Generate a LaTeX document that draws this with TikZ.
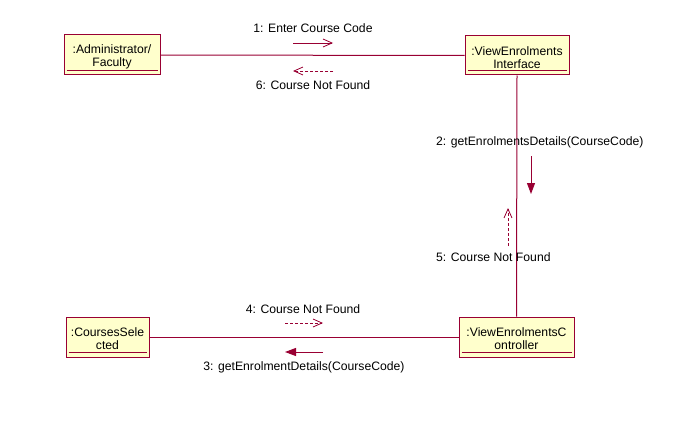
\documentclass[tikz,border=0pt]{standalone}
\usepackage{fontspec}
\setmainfont{Liberation Sans}
\usetikzlibrary{arrows.meta}
\definecolor{umlred}{HTML}{990033}
\definecolor{umlfill}{HTML}{FFFFCC}
\begin{document}
\begin{tikzpicture}[x=1pt,y=-1pt,
  obj/.style={draw=umlred,fill=umlfill,line width=1pt,inner sep=0pt},
  objtext/.style={inner sep=0pt,align=center,font=\fontsize{12.2}{13}\selectfont},
  link/.style={draw=umlred,line width=1pt},
  msg/.style={font=\fontsize{12.2}{14}\selectfont,inner sep=0pt},
  callarrow/.style={draw=umlred,line width=1pt,-{Triangle[length=11pt,width=8pt]}},
  sendarrow/.style={draw=umlred,line width=0.8pt,-{Straight Barb[length=9pt,width=8pt]}},
  retarrow/.style={draw=umlred,line width=0.8pt,dash pattern=on 3pt off 2pt,-{Straight Barb[length=9pt,width=8pt,line width=0.8pt]}}
]
\useasboundingbox (0,0) rectangle (675,428);
\fill[white] (0,0) rectangle (675,428);

% objects
\node[obj,minimum width=96pt,minimum height=40pt] (adm) at (112,55) {};
\node[obj,minimum width=104pt,minimum height=39pt] (vei) at (517,55.5) {};
\node[obj,minimum width=83pt,minimum height=40pt] (cs) at (107.5,337) {};
\node[obj,minimum width=115pt,minimum height=40pt] (vec) at (516.5,337) {};

\node[objtext] (admt) at ([yshift=-2pt]adm.center) {:Administrator/\\Faculty};
\node[objtext] (veit) at ([yshift=-2pt]vei.center) {:ViewEnrolments\\Interface};
\node[objtext] (cst) at ([yshift=-2pt]cs.center) {:CoursesSele\\cted};
\node[objtext] (vect) at ([yshift=-2pt]vec.center) {:ViewEnrolmentsC\\ontroller};

% underlines
\foreach \n in {adm,vei,cs,vec}
  \draw[umlred,line width=1pt] ([xshift=3pt,yshift=5pt]\n.south west) -- ([xshift=-3pt,yshift=5pt]\n.south east);

% links
\draw[link] (adm.east) -- (vei.west);
\draw[link] (vei.south) -- (vec.north);
\draw[link] (cs.east) -- (vec.west);

% message 1
\node[msg] (m1) at (313,28) {1: Enter Course Code};
\coordinate (m1a) at (293,43); \coordinate (m1b) at (333,43);
\draw[sendarrow] (m1a) -- (m1b);
% message 6
\node[msg] (m6) at (313,85) {6: Course Not Found};
\coordinate (m6a) at (333,71); \coordinate (m6b) at (293,71);
\draw[retarrow] (m6a) -- (m6b);
% message 2
\node[msg,anchor=west] (m2) at (436,142) {2: getEnrolmentsDetails(CourseCode)};
\coordinate (m2a) at (531,156); \coordinate (m2b) at (531,194);
\draw[callarrow] (m2a) -- (m2b);
% message 5
\node[msg,anchor=west] (m5) at (436,257) {5: Course Not Found};
\coordinate (m5a) at (508,246); \coordinate (m5b) at (508,208);
\draw[retarrow] (m5a) -- (m5b);
% message 4
\node[msg] (m4) at (303,309) {4: Course Not Found};
\coordinate (m4a) at (285,323); \coordinate (m4b) at (323,323);
\draw[retarrow] (m4a) -- (m4b);
% message 3
\node[msg] (m3) at (304,367) {3: getEnrolmentDetails(CourseCode)};
\coordinate (m3a) at (323,352); \coordinate (m3b) at (285,352);
\draw[callarrow] (m3a) -- (m3b);
\end{tikzpicture}
\end{document}
